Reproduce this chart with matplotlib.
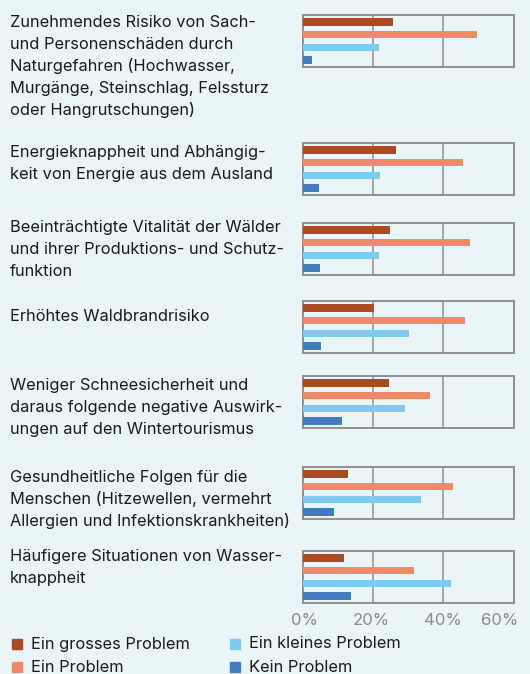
import matplotlib
matplotlib.use("Agg")
import matplotlib.pyplot as plt
from matplotlib.patches import Rectangle
from matplotlib.transforms import ScaledTranslation

categories = [
    "Zunehmendes Risiko von Sach-\nund Personenschäden durch\nNaturgefahren (Hochwasser,\nMurgänge, Steinschlag, Felssturz\noder Hangrutschungen)",
    "Energieknappheit und Abhängig-\nkeit von Energie aus dem Ausland",
    "Beeinträchtigte Vitalität der Wälder\nund ihrer Produktions- und Schutz-\nfunktion",
    "Erhöhtes Waldbrandrisiko",
    "Weniger Schneesicherheit und\ndaraus folgende negative Auswirk-\nungen auf den Wintertourismus",
    "Gesundheitliche Folgen für die\nMenschen (Hitzewellen, vermehrt\nAllergien und Infektionskrankheiten)",
    "Häufigere Situationen von Wasser-\nknappheit",
]
series_names = ["Ein grosses Problem", "Ein Problem", "Ein kleines Problem", "Kein Problem"]
gross = [25.8, 26.6, 24.9, 20.4, 24.6, 13.0, 11.8]
problem = [49.7, 45.7, 47.7, 46.3, 36.3, 42.9, 31.8]
klein = [21.8, 22.1, 21.8, 30.3, 29.2, 33.8, 42.3]
kein = [2.7, 4.7, 5.0, 5.3, 11.3, 9.0, 13.8]
tick_values = [0, 20, 40, 60]
tick_labels = ["0%", "20%", "40%", "60%"]

colors = ["#a84a22", "#f28966", "#7fcaf0", "#417cc0"]
bg = "#eaf5f7"
frame_col = "#8f8f8f"
text_col = "#1a1a1a"

W, H = 530, 674
fig = plt.figure(figsize=(W / 100, H / 100), dpi=100)
fig.patch.set_facecolor(bg)
plt.rcParams['font.family'] = ['Inter', 'DejaVu Sans']

panel_tops = [15, 143, 223, 301, 376, 467, 551]
baselines = [27, 157, 232, 321, 390, 482, 561]
panel_h = 52
x0, x1 = 302.5, 513.5
fs = 11.8
line_px = 22

series = [gross, problem, klein, kein]
for i, cat in enumerate(categories):
    top = panel_tops[i]
    ax = fig.add_axes([x0 / W, 1 - (top + panel_h) / H, (x1 - x0) / W, panel_h / H])
    ax.set_facecolor(bg)
    for j, s in enumerate(series):
        ax.barh(j, s[i], height=0.6, color=colors[j], zorder=3)
    ax.set_xlim(0, 60)
    ax.set_ylim(3.55, -0.55)
    for v in [20, 40]:
        ax.axvline(v, color=frame_col, lw=1.1, zorder=2)
    for sp in ax.spines.values():
        sp.set_color(frame_col)
        sp.set_linewidth(1.4)
    ax.set_yticks([])
    if i == len(categories) - 1:
        ax.set_xticks(tick_values)
        ax.set_xticklabels(tick_labels, color="#8a8a8a", fontsize=12)
        ax.tick_params(axis='x', length=0, pad=7)
        lbls = ax.get_xticklabels()
        lbls[0].set_transform(lbls[0].get_transform() + ScaledTranslation(2 / 100, 0, fig.dpi_scale_trans))
        lbls[1].set_transform(lbls[1].get_transform() + ScaledTranslation(-2 / 100, 0, fig.dpi_scale_trans))
        lbls[-1].set_horizontalalignment('right')
        lbls[-1].set_transform(lbls[-1].get_transform() + ScaledTranslation(4.5 / 100, 0, fig.dpi_scale_trans))
    else:
        ax.set_xticks([])
    for k, line in enumerate(cat.split("\n")):
        fig.text(10 / W, 1 - (baselines[i] + k * line_px) / H, line,
                 fontsize=fs, color=text_col, va='baseline', ha='left')

# legend
leg = [(12, 644, 0), (12, 667, 1), (230, 644, 2), (230, 667, 3)]
for (lx, ly, j) in leg:
    fig.patches.append(Rectangle((lx / W, 1 - (ly + 5) / H), 10 / W, 10 / H,
                                 transform=fig.transFigure, color=colors[j]))
    fig.text((lx + 19) / W, 1 - ly / H, series_names[j], fontsize=fs,
             color=text_col, va='center', ha='left')

fig.savefig("out.png", dpi=100, facecolor=bg)
